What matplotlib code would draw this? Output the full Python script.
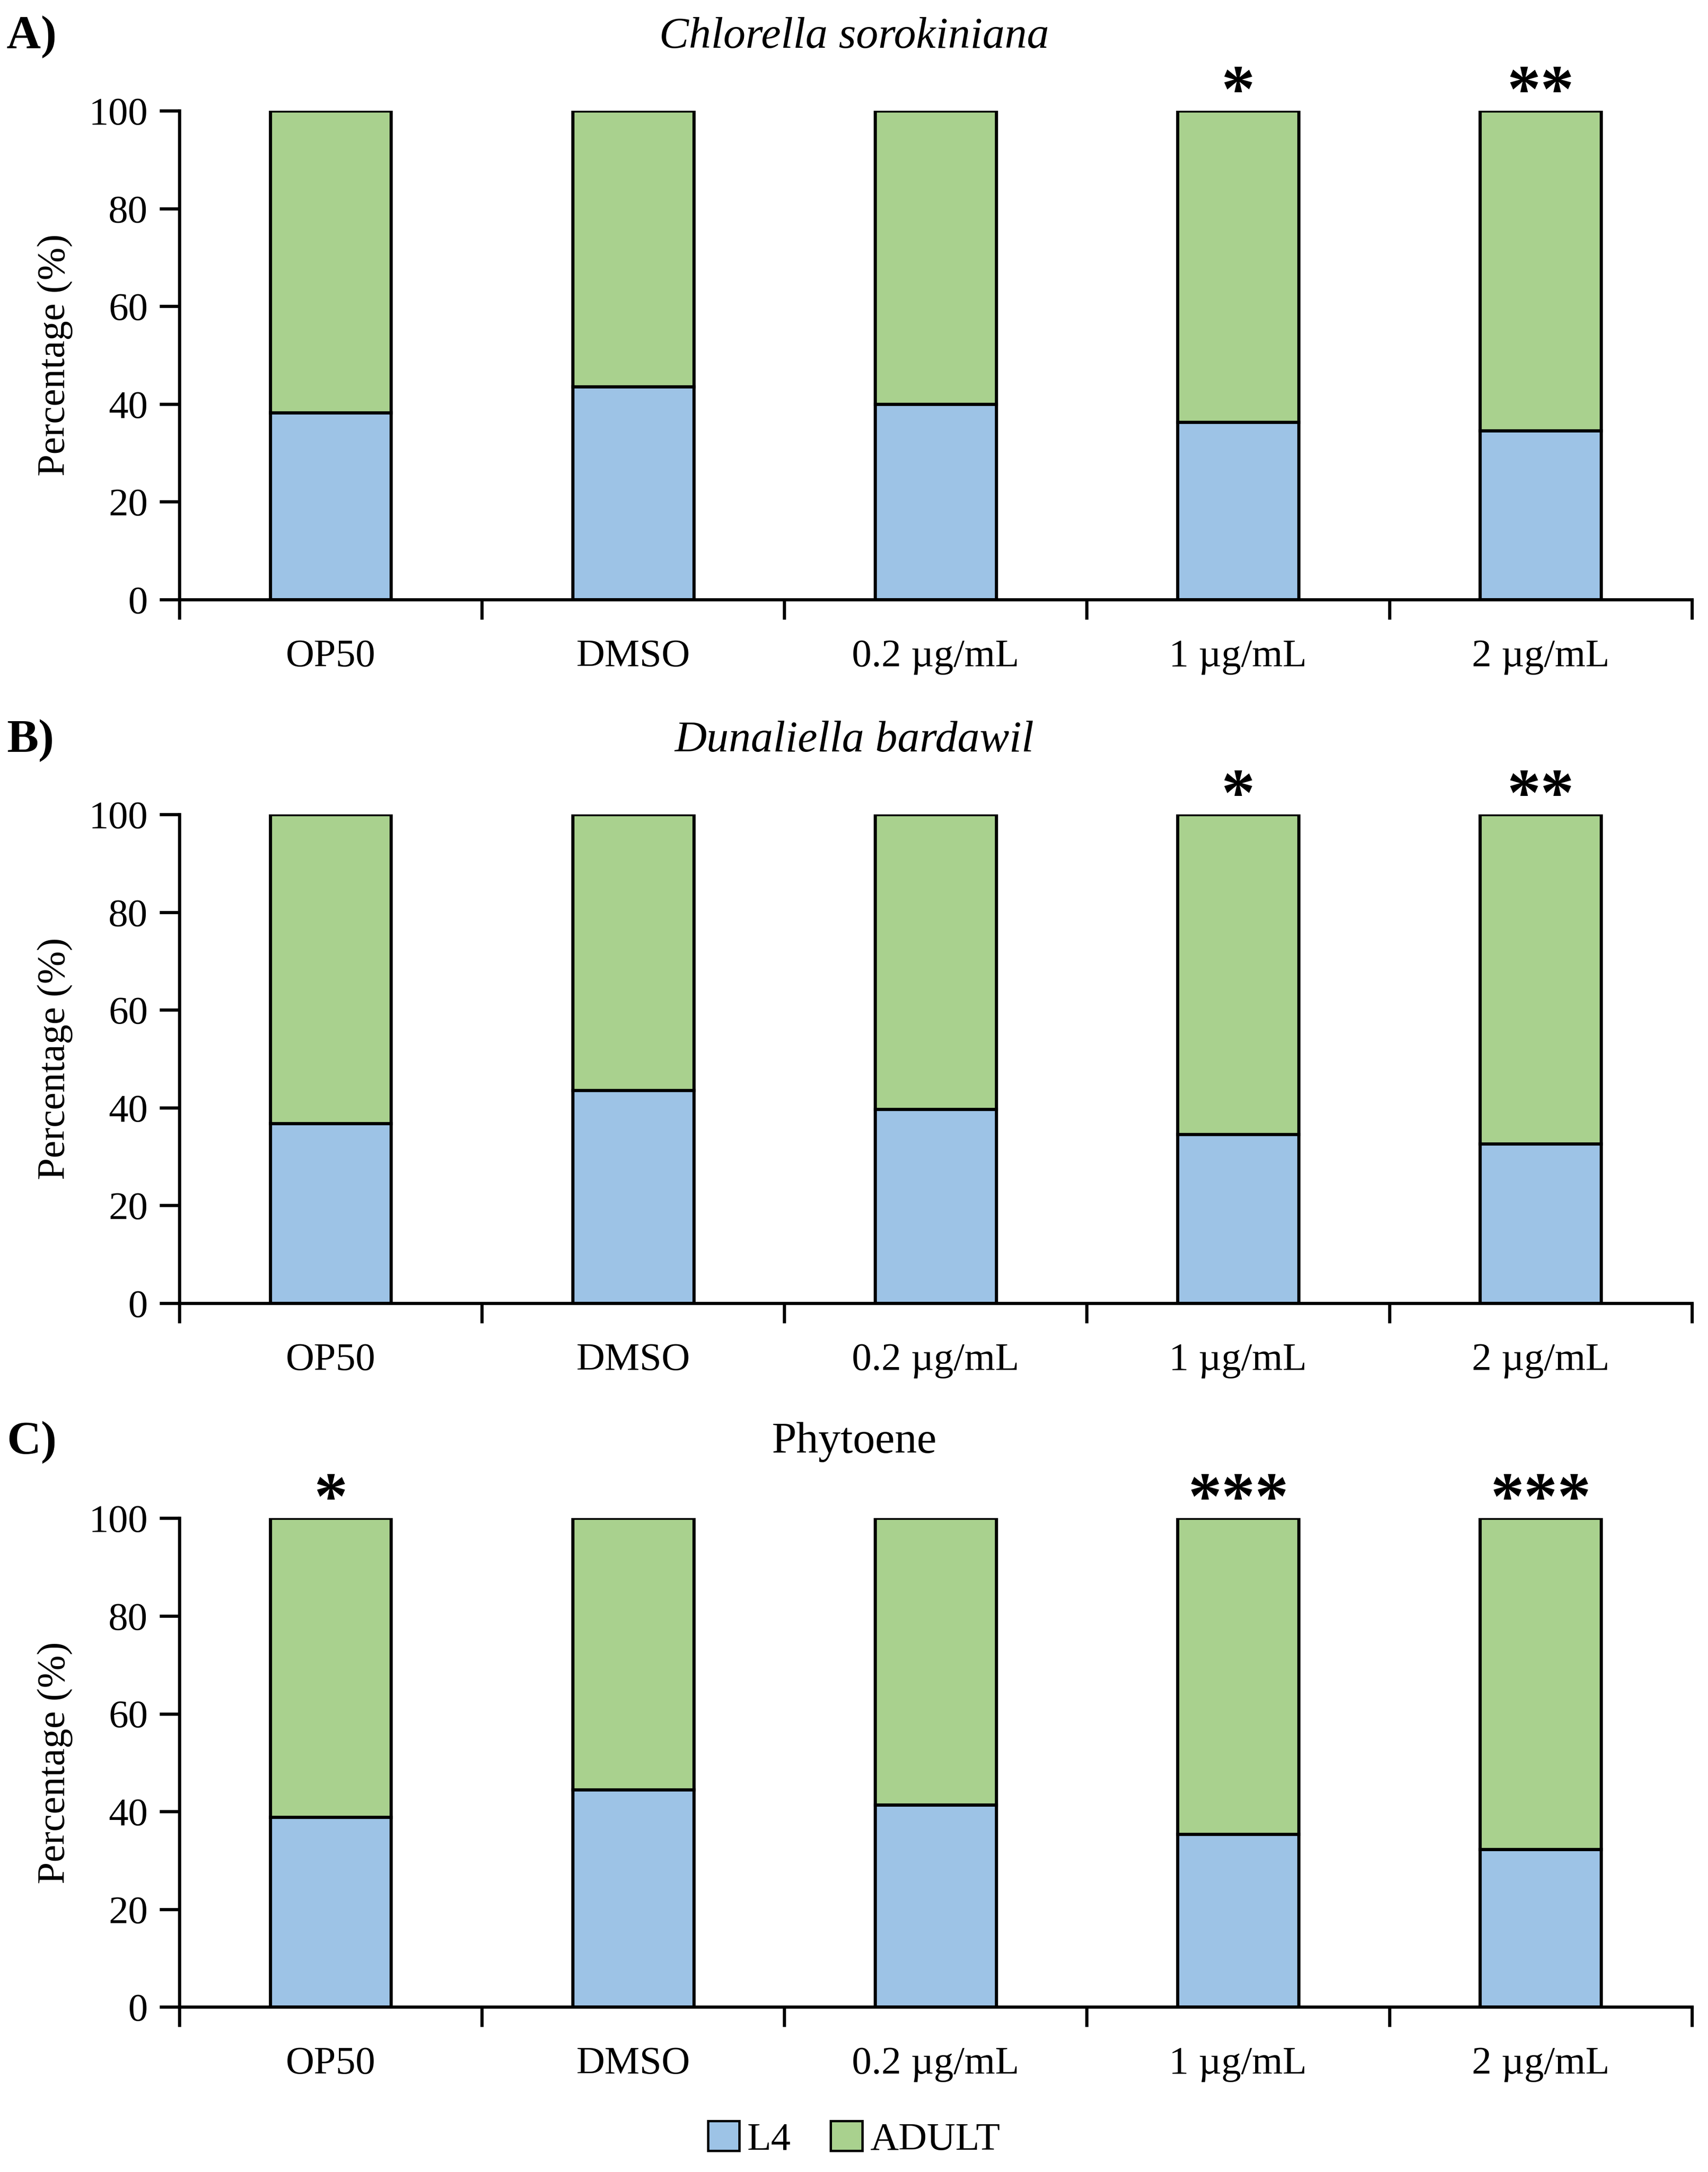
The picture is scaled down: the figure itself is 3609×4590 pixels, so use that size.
import matplotlib
matplotlib.use("Agg")
import matplotlib.pyplot as plt
from matplotlib.patches import Patch
import numpy as np

plt.rcParams['font.family'] = ['Liberation Serif', 'DejaVu Serif']

categories = ["OP50", "DMSO", "0.2 µg/mL", "1 µg/mL", "2 µg/mL"]
titles = ["Chlorella sorokiniana", "Dunaliella bardawil", "Phytoene"]
title_italic = [True, True, False]
panel_labels = ["A)", "B)", "C)"]
l4_A = [38.2, 43.6, 40.0, 36.3, 34.6]
l4_B = [36.8, 43.6, 39.7, 34.6, 32.6]
l4_C = [38.8, 44.5, 41.4, 35.4, 32.3]
sig_A = ["", "", "", "*", "**"]
sig_B = ["", "", "", "*", "**"]
sig_C = ["*", "", "", "***", "***"]
yticks = [0, 20, 40, 60, 80, 100]

l4_all = [l4_A, l4_B, l4_C]
sig_all = [sig_A, sig_B, sig_C]

blue = "#9DC3E6"
green = "#A9D18E"

W, H = 3609, 4590
dpi = 300
fig = plt.figure(figsize=(W / dpi, H / dpi), dpi=dpi)

left, right = 0.105, 0.9905
bottoms = [0.724, 0.400, 0.076]
height = 0.225
title_y = [0.983, 0.659, 0.336]

x = np.arange(len(categories))
for i in range(3):
    ax = fig.add_axes([left, bottoms[i], right - left, height])
    l4 = np.array(l4_all[i])
    adult = 100 - l4
    ax.bar(x, l4, width=0.40, color=blue, edgecolor="black", linewidth=1.6, zorder=2)
    ax.bar(x, adult, bottom=l4, width=0.40, color=green, edgecolor="black", linewidth=1.6, zorder=2)
    ax.set_xlim(-0.5, len(categories) - 0.5)
    ax.set_ylim(0, 100)
    ax.set_yticks(yticks)
    ax.set_yticklabels([str(t) for t in yticks], fontsize=20)
    ax.set_xticks(x)
    ax.set_xticklabels(categories, fontsize=20)
    ax.set_xticks(np.arange(-0.5, len(categories), 1.0), minor=True)
    ax.tick_params(axis='x', which='major', length=0, pad=20)
    ax.tick_params(axis='x', which='minor', length=10, width=1.6, direction='out')
    ax.tick_params(axis='y', length=10, width=1.6, direction='out', pad=6)
    for s in ["top", "right"]:
        ax.spines[s].set_visible(False)
    for s in ["left", "bottom"]:
        ax.spines[s].set_linewidth(1.6)
    ax.set_ylabel("Percentage (%)", fontsize=20, labelpad=8)
    for j, s in enumerate(sig_all[i]):
        if s:
            ax.text(x[j], 97.0, s, ha='center', va='bottom', fontsize=34,
                    fontweight='bold', clip_on=False)
    fig.text(0.5, title_y[i], titles[i], ha='center', va='center', fontsize=22.5,
             style='italic' if title_italic[i] else 'normal')
    fig.text(0.004, title_y[i], panel_labels[i], ha='left', va='center', fontsize=24,
             fontweight='bold')

handles = [Patch(facecolor=blue, edgecolor="black", linewidth=1.2, label="L4"),
           Patch(facecolor=green, edgecolor="black", linewidth=1.2, label="ADULT")]
fig.legend(handles=handles, loc='center', bbox_to_anchor=(0.5, 0.015), ncol=2,
           frameon=False, fontsize=20, handlelength=0.8, handleheight=0.8,
           handletextpad=0.2, columnspacing=1.0)

fig.savefig("out.png", dpi=dpi)
